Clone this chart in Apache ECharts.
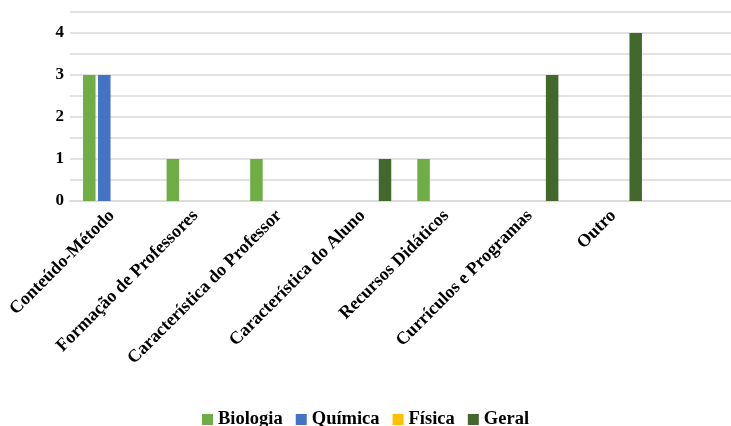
<!DOCTYPE html>
<html>
<head>
<meta charset="utf-8">
<script src="https://cdn.jsdelivr.net/npm/echarts@6/dist/echarts.min.js"></script>
<style>
  html, body { margin: 0; padding: 0; background: #fff; }
  #chart { width: 731px; height: 426px; }
</style>
</head>
<body>
<div id="chart"></div>
<script>
const categories = ['Conteúdo-Método', 'Formação de Professores', 'Característica do Professor',
  'Característica do Aluno', 'Recursos Didáticos', 'Currículos e Programas', 'Outro'];
const biologia = [3, 1, 1, 0, 1, 0, 0];
const quimica  = [3, 0, 0, 0, 0, 0, 0];
const fisica   = [0, 0, 0, 0, 0, 0, 0];
const geral    = [0, 0, 0, 1, 0, 3, 4];
const yTicks = [0, 1, 2, 3, 4];

const font = 'Liberation Serif';
const gridLine = { color: '#d9d9d9', width: 1.5 };

function bar(name, data, color) {
  return {
    name: name,
    type: 'bar',
    data: data,
    barWidth: 12.5,
    barGap: '20%',
    itemStyle: { color: color },
    emphasis: { disabled: true }
  };
}

const option = {
  animation: false,
  // grid 0 holds the bars, grid 1 only draws the gridlines out to the edge
  grid: [
    { left: 70, top: 12, bottom: 225, width: 585 },
    { left: 70, top: 12, bottom: 225, right: 0 }
  ],
  legend: {
    bottom: -8,
    left: 'center',
    itemWidth: 11,
    itemHeight: 11,
    itemGap: 13,
    icon: 'rect',
    textStyle: { fontFamily: font, fontWeight: 'bold', fontSize: 18.5, color: '#000' },
    data: ['Biologia', 'Química', 'Física', 'Geral']
  },
  xAxis: [
    {
      type: 'category',
      gridIndex: 0,
      data: categories,
      axisLine: { show: false },
      axisTick: { show: false },
      axisLabel: {
        interval: 0,
        rotate: 45,
        margin: 12,
        fontFamily: font,
        fontWeight: 'bold',
        fontSize: 18,
        color: '#000'
      }
    },
    {
      type: 'value',
      gridIndex: 1,
      min: 0,
      max: 1,
      axisLine: { show: true, lineStyle: gridLine },
      axisTick: { show: false },
      axisLabel: { show: false },
      splitLine: { show: false }
    }
  ],
  yAxis: [
    {
      type: 'value',
      gridIndex: 0,
      min: 0,
      max: 4.5,
      interval: 0.5,
      axisLine: { show: false },
      axisTick: { show: false },
      splitLine: { show: false },
      axisLabel: {
        margin: 6,
        fontFamily: font,
        fontWeight: 'bold',
        fontSize: 17,
        color: '#000',
        formatter: function (v) { return yTicks.indexOf(v) >= 0 ? String(v) : ''; }
      }
    },
    {
      type: 'value',
      gridIndex: 1,
      min: 0,
      max: 4.5,
      interval: 0.5,
      axisLine: { show: false },
      axisTick: { show: false },
      axisLabel: { show: false },
      splitLine: { lineStyle: gridLine }
    }
  ],
  series: [
    bar('Biologia', biologia, '#70ad47'),
    bar('Química', quimica, '#4472c4'),
    bar('Física', fisica, '#ffc000'),
    bar('Geral', geral, '#43682b')
  ]
};

const myChart = echarts.init(document.getElementById('chart'));
myChart.setOption(option);
</script>
</body>
</html>
